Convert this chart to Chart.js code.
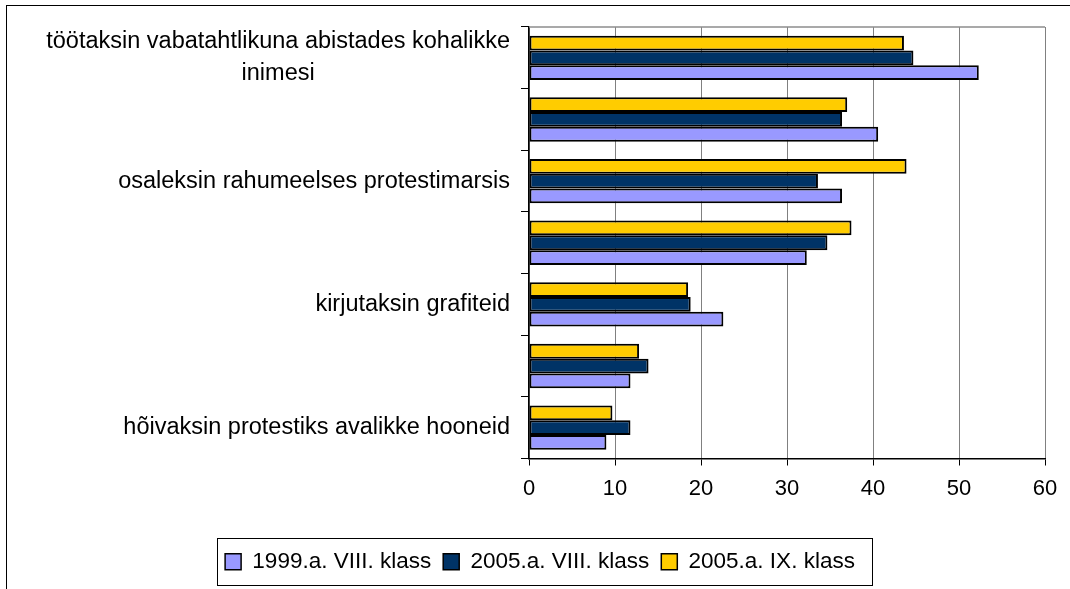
<!DOCTYPE html>
<html>
<head>
<meta charset="utf-8">
<script src="https://cdn.jsdelivr.net/npm/chart.js@4"></script>
<style>
  html, body { margin: 0; padding: 0; background: #fff; overflow: hidden; }
  #wrap { position: relative; width: 1070px; height: 589px; }
  #frame { position: absolute; left: 6px; top: 5px; width: 1200px; height: 700px;
           border-top: 1.5px solid #000; border-left: 1.5px solid #000; pointer-events: none; }
  canvas { position: absolute; left: 0; top: 0; }
</style>
</head>
<body>
<div id="wrap">
  <canvas id="c" width="1070" height="589"></canvas>
  <div id="frame"></div>
</div>
<script>
// Categories listed from the bottom of the chart upward (axis is reversed).
const categories = [
  'hõivaksin protestiks avalikke hooneid',
  '',
  'kirjutaksin grafiteid',
  '',
  'osaleksin rahumeelses protestimarsis',
  '',
  ['töötaksin vabatahtlikuna abistades kohalikke', 'inimesi']
];

const seriesNames = ['1999.a. VIII. klass', '2005.a. VIII. klass', '2005.a. IX. klass'];
const values1999VIII = [9.0, 11.8, 22.6, 32.3, 36.4, 40.6, 52.3];
const values2005VIII = [11.8, 13.9, 18.8, 34.7, 33.6, 36.4, 44.7];
const values2005IX   = [9.7, 12.8, 18.5, 37.5, 43.9, 37.0, 43.6];
const seriesColors = ['#9999FF', '#003366', '#FFCC00'];

const xTicks = [0, 10, 20, 30, 40, 50, 60];

const FONT = '"Liberation Sans", Arial, sans-serif';

// Plot frame (top edge) in gray, like the value gridlines.
const plotFrame = {
  id: 'plotFrame',
  beforeDatasetsDraw(chart) {
    const { ctx, chartArea } = chart;
    ctx.save();
    ctx.strokeStyle = '#8c8c8c';
    ctx.lineWidth = 1.5;
    ctx.beginPath();
    ctx.moveTo(chartArea.left, chartArea.top);
    ctx.lineTo(chartArea.right, chartArea.top);
    ctx.stroke();
    ctx.restore();
  }
};

// Category labels: multi-line labels are centred line by line, block right-aligned.
const categoryLabels = {
  id: 'categoryLabels',
  afterDraw(chart) {
    const { ctx } = chart;
    const yScale = chart.scales.y;
    const rightEdge = yScale.right - 19;
    const lineH = 32;
    ctx.save();
    ctx.font = '23.5px ' + FONT;
    ctx.fillStyle = '#000';
    ctx.textBaseline = 'middle';
    ctx.textAlign = 'center';
    categories.forEach((lab, i) => {
      const lines = Array.isArray(lab) ? lab : [lab];
      if (!lines.join('')) return;
      const w = Math.max(...lines.map(l => ctx.measureText(l).width));
      const cx = rightEdge - w / 2;
      const cy = yScale.getPixelForValue(i);
      const y0 = cy - (lines.length - 1) * lineH / 2;
      lines.forEach((l, k) => ctx.fillText(l, cx, y0 + k * lineH));
    });
    ctx.restore();
  }
};

// Box around the legend row.
const legendBox = {
  id: 'legendBox',
  afterDraw(chart) {
    const hb = chart.legend && chart.legend.legendHitBoxes;
    if (!hb || !hb.length) return;
    const { ctx } = chart;
    const lefts = hb.map(b => b.left), rights = hb.map(b => b.left + b.width);
    const cy = hb[0].top + hb[0].height / 2;
    const left = Math.min(...lefts) - 8;
    const right = Math.max(...rights) + 17;
    ctx.save();
    ctx.strokeStyle = '#000';
    ctx.lineWidth = 1;
    ctx.strokeRect(Math.round(left) + 0.5, Math.round(cy - 23.5) + 0.5,
                   Math.round(right - left), 47);
    ctx.restore();
  }
};

const makeSet = (label, data, color, order) => ({
  label, data,
  backgroundColor: color,
  borderColor: '#000',
  borderWidth: 2,
  borderSkipped: false,
  categoryPercentage: 0.72,
  barPercentage: 1.0,
  legendOrder: order
});

// Within each category the last series sits on top, so datasets run in reverse.
new Chart(document.getElementById('c'), {
  type: 'bar',
  data: {
    labels: categories,
    datasets: [
      makeSet(seriesNames[2], values2005IX, seriesColors[2], 2),
      makeSet(seriesNames[1], values2005VIII, seriesColors[1], 1),
      makeSet(seriesNames[0], values1999VIII, seriesColors[0], 0)
    ]
  },
  options: {
    indexAxis: 'y',
    responsive: false,
    animation: false,
    devicePixelRatio: 1,
    layout: { padding: { left: 35, right: 25, top: 27, bottom: 6 } },
    scales: {
      y: {
        reverse: true,
        offset: true,
        grid: {
          offset: true,
          drawOnChartArea: false,
          drawTicks: true,
          tickLength: 8,
          tickColor: '#000',
          tickWidth: 1
        },
        border: { display: true, color: '#000', width: 1.5 },
        ticks: { display: false },
        afterFit(scale) { scale.width = 494; }
      },
      x: {
        min: 0,
        max: 60,
        afterBuildTicks(scale) { scale.ticks = xTicks.map(v => ({ value: v })); },
        grid: {
          color: '#808080',
          lineWidth: 1,
          tickColor: '#000',
          tickLength: 7,
          drawTicks: true
        },
        border: { display: true, color: '#000', width: 1.5 },
        ticks: {
          color: '#000',
          font: { family: FONT, size: 22 },
          padding: 10,
          maxRotation: 0
        },
        afterFit(scale) { scale.height = 80; }
      }
    },
    plugins: {
      legend: {
        position: 'bottom',
        labels: {
          color: '#000',
          font: { family: FONT, size: 22.5 },
          boxWidth: 16,
          boxHeight: 16,
          padding: 12,
          generateLabels(chart) {
            return chart.data.datasets
              .map((ds, i) => ({
                text: ds.label,
                fillStyle: ds.backgroundColor,
                strokeStyle: '#000',
                lineWidth: 1.5,
                datasetIndex: i,
                hidden: false,
                order: ds.legendOrder
              }))
              .sort((a, b) => a.order - b.order);
          }
        }
      },
      tooltip: { enabled: false }
    }
  },
  plugins: [plotFrame, categoryLabels, legendBox]
});
</script>
</body>
</html>
